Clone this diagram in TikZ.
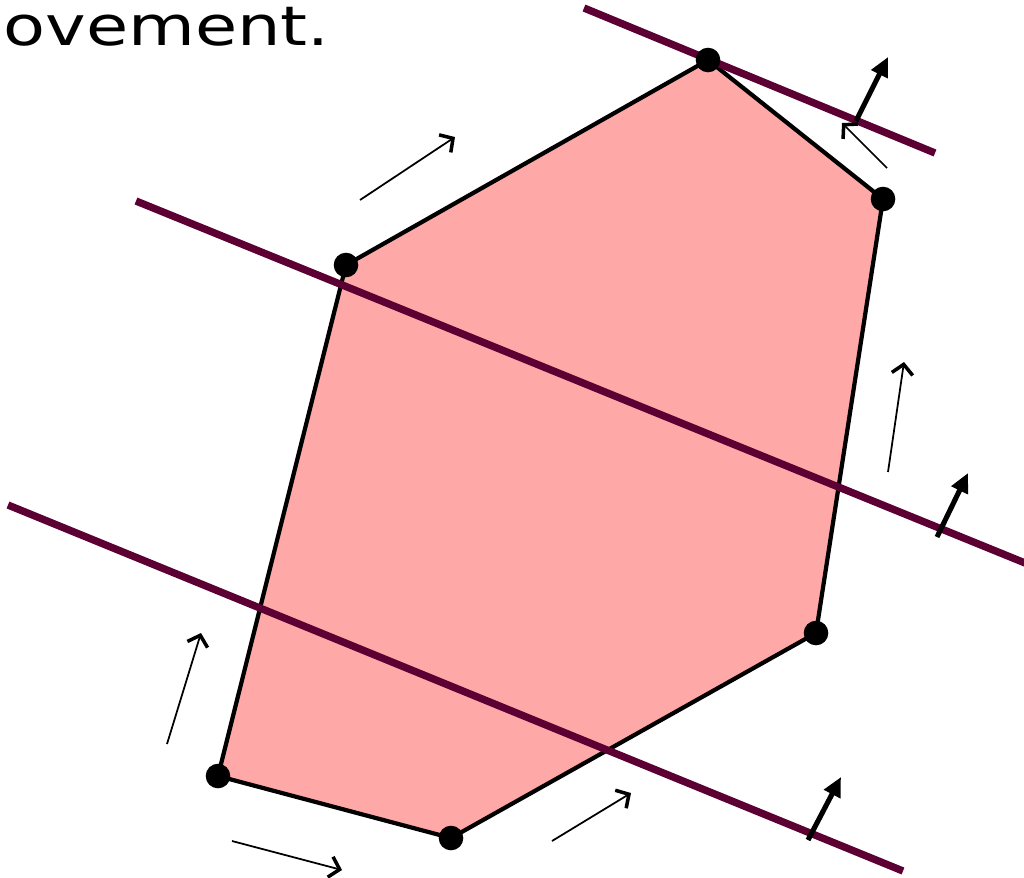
\documentclass[tikz,border=0pt]{standalone}
\usepackage{fontspec}
\newfontfamily\labelfont{DejaVu Sans}
\usetikzlibrary{arrows.meta}
\definecolor{polyfill}{RGB}{255,168,168}
\definecolor{linemaroon}{RGB}{92,0,51}
\tikzset{
  vdot/.style={circle,fill=black,inner sep=0pt,minimum size=14pt},
  edgeline/.style={draw=black,line width=2.4pt,line join=round},
  sweep/.style={draw=linemaroon,line width=4.2pt},
  dirarrow/.style={line width=1pt,-{Straight Barb[length=5.5pt,width=12pt,line width=2pt]}},
  normalarrow/.style={line width=2.9pt,-{Triangle[length=11pt,width=10pt]}}
}
\begin{document}
\begin{tikzpicture}[x=0.02cm,y=-0.02cm]
\useasboundingbox (0,0) rectangle (1024,877);
% text
\node[anchor=base east,inner sep=0pt,xscale=1.26,font=\labelfont\fontsize{31}{36}\selectfont] (txt) at (330,45) {ovement.};
% vertices
\coordinate (A) at (708,60);
\coordinate (B) at (883,199);
\coordinate (C) at (816,633);
\coordinate (D) at (451,838);
\coordinate (E) at (218,776);
\coordinate (F) at (346,265);
\fill[polyfill] (A) -- (B) -- (C) -- (D) -- (E) -- (F) -- cycle;
\draw[edgeline] (A) -- (B) -- (C) -- (D) -- (E) -- (F) -- cycle;
% sweep lines
\coordinate (l1a) at (584,8);   \coordinate (l1b) at (935,153);
\coordinate (l2a) at (136,201); \coordinate (l2b) at (1030,565);
\coordinate (l3a) at (8,505);   \coordinate (l3b) at (903,871);
\draw[sweep] (l1a) -- (l1b);
\draw[sweep] (l2a) -- (l2b);
\draw[sweep] (l3a) -- (l3b);
% vertex dots
\foreach \v in {A,B,C,D,E,F} \node[vdot] (d\v) at (\v) {};
% normal arrows
\coordinate (n1s) at (856,121); \coordinate (n1t) at (888,57);
\coordinate (n2s) at (937,537); \coordinate (n2t) at (968,473);
\coordinate (n3s) at (808,840); \coordinate (n3t) at (841,777);
\draw[normalarrow] (n1s) -- (n1t);
\draw[normalarrow] (n2s) -- (n2t);
\draw[normalarrow] (n3s) -- (n3t);
% direction arrows
\coordinate (a1s) at (360,200); \coordinate (a1t) at (455,137);
\coordinate (a2s) at (887,168); \coordinate (a2t) at (842,123);
\coordinate (a3s) at (888,472); \coordinate (a3t) at (904,362);
\coordinate (a4s) at (167,744); \coordinate (a4t) at (201,633);
\coordinate (a5s) at (232,841); \coordinate (a5t) at (342,870);
\coordinate (a6s) at (552,841); \coordinate (a6t) at (631,793);
\foreach \i in {1,...,6} \draw[dirarrow] (a\i s) -- (a\i t);
\end{tikzpicture}
\end{document}
